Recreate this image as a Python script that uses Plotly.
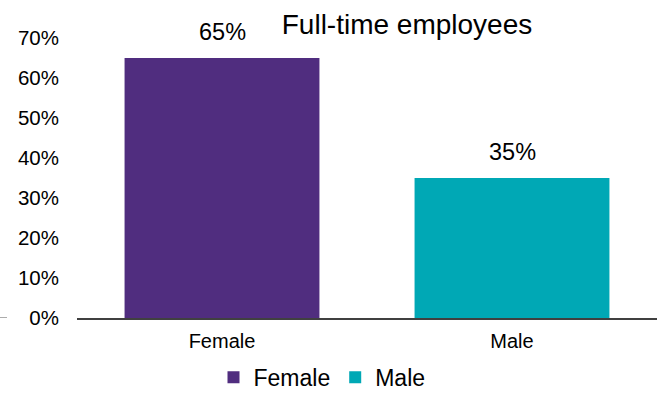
import plotly.graph_objects as go

categories = ["Female", "Male"]
values = [0.65, 0.35]
labels = ["65%", "35%"]
colors = ["#502D7F", "#00A8B5"]
yticks = [0, 0.1, 0.2, 0.3, 0.4, 0.5, 0.6, 0.7]
ytick_text = ["0%", "10%", "20%", "30%", "40%", "50%", "60%", "70%"]
title_text = "Full-time employees"

FONT = "Liberation Sans, Arial, sans-serif"

fig = go.Figure()
for cat, val, col in zip(categories, values, colors):
    fig.add_trace(go.Bar(x=[cat], y=[val], name=cat, marker=dict(color=col, line=dict(width=0)),
                         showlegend=True))

for cat, val, lab in zip(categories, values, labels):
    fig.add_annotation(x=cat, y=val, text=lab, showarrow=False, yanchor="bottom",
                       yshift=11, font=dict(family=FONT, size=23.5, color="#000000"))

fig.add_shape(type="line", xref="paper", yref="y", x0=-77/580, x1=-70/580, y0=0, y1=0,
              line=dict(color="#595959", width=1))

fig.update_layout(
    width=664, height=394,
    margin=dict(l=77, r=7, t=38, b=75.5, autoexpand=False),
    paper_bgcolor="white", plot_bgcolor="white",
    barmode="overlay", bargap=0.328,
    font=dict(family=FONT, color="#000000"),
    title=dict(text=title_text, x=407/664, xanchor="center", xref="container",
               y=1 - 24/394, yanchor="middle", yref="container",
               font=dict(family=FONT, size=28, color="#000000")),
    xaxis=dict(showline=True, linecolor="#404040", linewidth=1.5, showgrid=False,
               ticks="", tickfont=dict(family=FONT, size=20, color="#000000"),
               ticklabelstandoff=4, zeroline=False, automargin=False),
    yaxis=dict(range=[0, 0.7], tickvals=yticks, ticktext=ytick_text, showgrid=False,
               showline=False, zeroline=False, ticks="",
               tickfont=dict(family=FONT, size=20.5, color="#000000"),
               ticklabelstandoff=17, automargin=False),
    legend=dict(orientation="h", xref="paper", x=(322 - 77) / 580, xanchor="center",
                yref="paper", y=-(378 - 318.5) / 280.5, yanchor="middle",
                font=dict(family=FONT, size=23, color="#000000"),
                itemwidth=30, tracegroupgap=0),
)

fig.write_html("out.html")
